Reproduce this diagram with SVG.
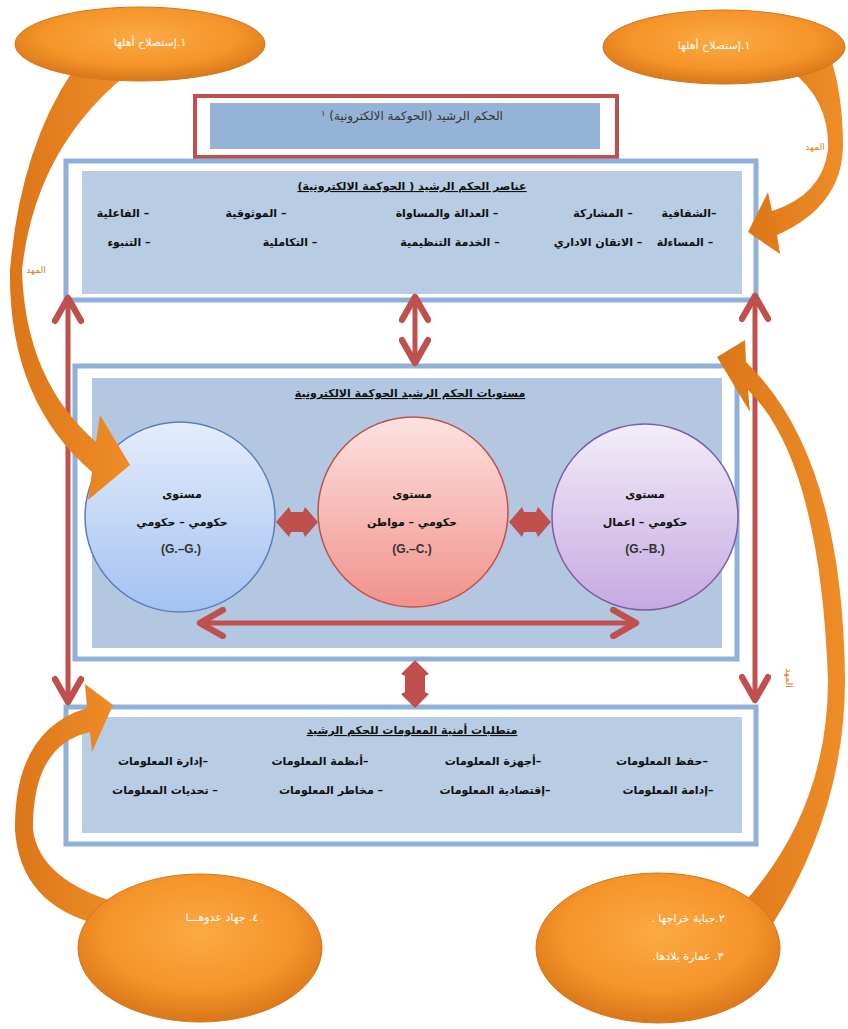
<svg xmlns="http://www.w3.org/2000/svg" width="848" height="1029" viewBox="0 0 848 1029">
<defs>
<style>
.frame{fill:#fff;stroke:#8fb0d9;stroke-width:5}
.inner{fill:#b8cce4}
.t{font-family:"DejaVu Sans","Noto Sans",sans-serif;font-size:11px;font-weight:bold;fill:#111;text-anchor:middle;direction:rtl}
.u{text-decoration:underline}
.lat{font-family:"Liberation Sans",Arial,sans-serif;font-size:12px;font-weight:bold;fill:#333;text-anchor:middle}
.w{font-family:"DejaVu Sans","Noto Sans",sans-serif;font-size:11px;fill:#fff;text-anchor:middle;direction:rtl}
.lbl{font-family:"DejaVu Sans","Noto Sans",sans-serif;font-size:9px;fill:#e07b1e;text-anchor:middle;direction:rtl}
.conn{stroke:#c0504d;stroke-width:5;fill:none}
.dia{fill:#c0504d}
.tail{fill:url(#og)}
.ell{fill:url(#rg);stroke:#d0781a;stroke-width:1}
</style>
<marker id="chev" viewBox="0 0 20 20" refX="17" refY="10" markerWidth="6.5" markerHeight="6.5" orient="auto-start-reverse" markerUnits="strokeWidth">
<path d="M3,2 L17,10 L3,18" fill="none" stroke="#c0504d" stroke-width="4" stroke-linecap="round" stroke-linejoin="round"/>
</marker>
<radialGradient id="rg" cx="50%" cy="40%" r="60%">
<stop offset="0" stop-color="#fbaa45"/>
<stop offset="0.65" stop-color="#f59428"/>
<stop offset="1" stop-color="#d8761a"/>
</radialGradient>
<linearGradient id="og" x1="0" y1="0" x2="1" y2="0">
<stop offset="0" stop-color="#dc7619"/>
<stop offset="1" stop-color="#ee8d28"/>
</linearGradient>
<linearGradient id="gb" x1="0" y1="0" x2="0" y2="1">
<stop offset="0" stop-color="#e4edfb"/>
<stop offset="1" stop-color="#a3c1f2"/>
</linearGradient>
<linearGradient id="gp" x1="0" y1="0" x2="0" y2="1">
<stop offset="0" stop-color="#fde3e0"/>
<stop offset="1" stop-color="#f1918b"/>
</linearGradient>
<linearGradient id="gv" x1="0" y1="0" x2="0" y2="1">
<stop offset="0" stop-color="#f3edf8"/>
<stop offset="1" stop-color="#c6a9e2"/>
</linearGradient>
</defs>
<rect width="848" height="1029" fill="#fff"/>

<g id="title">
<rect x="195" y="96" width="422" height="61" fill="#fff" stroke="#c0504d" stroke-width="4"/>
<rect x="210" y="103" width="390" height="46" fill="#95b3d7"/>
<text class="t" x="412" y="120" style="font-weight:normal;fill:#333;font-size:12px">الحكم الرشيد (الحوكمة الالكترونية) <tspan font-size="8" dy="-4">١</tspan></text>
</g>

<g id="elements">
<rect class="frame" x="66" y="161" width="690" height="139"/>
<rect class="inner" x="82" y="171" width="660" height="123"/>
<text class="t u" x="412" y="190">عناصر الحكم الرشيد ( الحوكمة الالكترونية)</text>
<text class="t" x="689" y="217">–الشفافية</text>
<text class="t" x="603" y="217">– المشاركة</text>
<text class="t" x="447" y="217">– العدالة والمساواة</text>
<text class="t" x="256" y="217">– الموثوقية</text>
<text class="t" x="123" y="217">– الفاعلية</text>
<text class="t" x="685" y="246">– المساءلة</text>
<text class="t" x="598" y="246">– الاتقان الاداري</text>
<text class="t" x="450" y="246">– الخدمة التنظيمية</text>
<text class="t" x="290" y="246">– التكاملية</text>
<text class="t" x="129" y="246">– التنبوء</text>
</g>

<g id="levels">
<rect class="frame" x="75" y="366" width="662" height="293"/>
<rect x="92" y="378" width="630" height="270" fill="#b3c7e0"/>
<text class="t u" x="410" y="397">مستويات الحكم الرشيد الحوكمة الالكترونية</text>
</g>

<g id="gg">
<circle cx="180" cy="517" r="95" fill="url(#gb)" stroke="#5b7fb8" stroke-width="1.5"/>
<text class="t" x="182" y="498">مستوى</text>
<text class="t" x="182" y="526">حكومي – حكومي</text>
<text class="lat" x="181" y="553">(G.–G.)</text>
</g>
<g id="gc">
<circle cx="413" cy="512" r="95" fill="url(#gp)" stroke="#c0504d" stroke-width="1.5"/>
<text class="t" x="412" y="498">مستوى</text>
<text class="t" x="412" y="526">حكومي – مواطن</text>
<text class="lat" x="412" y="553">(G.–C.)</text>
</g>
<g id="gbz">
<circle cx="645" cy="517" r="93" fill="url(#gv)" stroke="#7b5fa3" stroke-width="1.5"/>
<text class="t" x="645" y="498">مستوى</text>
<text class="t" x="645" y="526">حكومي – اعمال</text>
<text class="lat" x="645" y="553">(G.–B.)</text>
</g>

<g id="security">
<rect class="frame" x="66" y="707" width="690" height="137"/>
<rect class="inner" x="82" y="717" width="660" height="116"/>
<text class="t u" x="412" y="734">متطلبات أمنية المعلومات للحكم الرشيد</text>
<text class="t" x="662" y="765">–حفظ المعلومات</text>
<text class="t" x="493" y="765">–أجهزة المعلومات</text>
<text class="t" x="320" y="765">–أنظمة المعلومات</text>
<text class="t" x="163" y="765">–إدارة المعلومات</text>
<text class="t" x="668" y="794">–إدامة المعلومات</text>
<text class="t" x="495" y="794">–إقتصادية  المعلومات</text>
<text class="t" x="331" y="794">– مخاطر المعلومات</text>
<text class="t" x="165" y="794">– تحديات  المعلومات</text>
</g>

<g id="connectors">
<line class="conn" x1="68" y1="298" x2="68" y2="702" marker-start="url(#chev)" marker-end="url(#chev)"/>
<line class="conn" x1="755" y1="296" x2="755" y2="700" marker-start="url(#chev)" marker-end="url(#chev)"/>
<line class="conn" x1="415" y1="297" x2="415" y2="363" marker-start="url(#chev)" marker-end="url(#chev)"/>
<line class="conn" x1="200" y1="623" x2="636" y2="623" marker-start="url(#chev)" marker-end="url(#chev)"/>
<polygon class="dia" transform="translate(297,522)" points="-21,0 -8,-15 -6,-10 6,-10 8,-15 21,0 8,15 6,10 -6,10 -8,15"/>
<polygon class="dia" transform="translate(530,522)" points="-21,0 -8,-15 -6,-10 6,-10 8,-15 21,0 8,15 6,10 -6,10 -8,15"/>
<polygon class="dia" transform="translate(415,684)" points="0,-24 14,-10 10,-8 10,8 14,10 0,24 -14,10 -10,8 -10,-8 -14,-10"/>
</g>

<g id="callout-tl">
<path class="tail" d="M72,72 Q20,150 10,270 Q8,400 92,472 L88,500 L130,465 L100,415 L96,442 Q25,380 22,270 Q35,150 125,76 Z"/>
<ellipse class="ell" cx="140" cy="44" rx="125" ry="37"/>
<text class="w" x="150" y="46">١.إستصلاح أهلها</text>
<text class="lbl" x="36" y="273">المهد</text>
</g>

<g id="callout-tr">
<path class="tail" d="M790,70 Q830,100 828,150 Q822,195 772,211 L768,192 L748,232 L780,254 L777,235 Q845,205 843,140 Q842,95 832,62 Z"/>
<ellipse class="ell" cx="724" cy="47" rx="121" ry="37"/>
<text class="w" x="714" y="49">١.إستصلاح أهلها</text>
<text class="lbl" x="815" y="150">المهد</text>
</g>

<g id="callout-bl">
<path class="tail" d="M100,925 Q20,905 15,830 Q14,730 87,708 L85,684 L113,705 L92,752 L90,732 Q32,745 33,830 Q40,880 118,903 Z"/>
<ellipse class="ell" cx="200" cy="948" rx="122" ry="74"/>
<text class="w" x="222" y="921">٤. جهاد عدوهـــا</text>
</g>

<g id="callout-br">
<path class="tail" d="M772,925 Q845,810 845,680 Q843,455 746,362 L745,340 L717,357 L750,412 L748,390 Q820,460 828,680 Q828,810 742,905 Z"/>
<ellipse class="ell" cx="658" cy="948" rx="122" ry="75"/>
<text class="w" x="688" y="922">٢.جباية خراجها .</text>
<text class="w" x="688" y="960">٣. عمارة بلادها.</text>
<text class="lbl" transform="translate(789,678) rotate(90)" x="0" y="3">المهد</text>
</g>
</svg>
